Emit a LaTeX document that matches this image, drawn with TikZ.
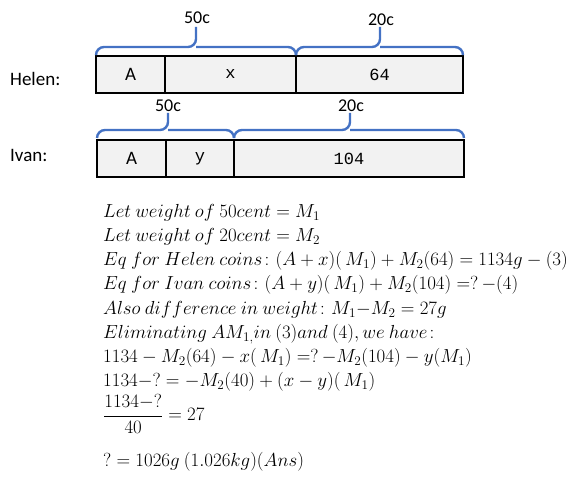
\RequirePackage{fix-cm}
\documentclass[tikz,border=0pt]{standalone}
\usepackage{amsmath}
\usepackage{fontspec}
\setmainfont{Carlito}
\newfontfamily\monof{Liberation Mono}
\begin{document}
\begin{tikzpicture}[x=1pt,y=-1pt,
  cell/.style={draw=black,line width=2pt,fill=black!5,inner sep=0pt,minimum height=37pt,font=\fontsize{19}{22}\selectfont},
  mono/.style={font=\monof\fontsize{17}{20}\selectfont},
  bracestyle/.style={draw={rgb,255:red,68;green,114;blue,196},line width=2.4pt,rounded corners=8pt},
  lbl/.style={font=\fontsize{18}{21}\selectfont,inner sep=0pt},
  wholbl/.style={font=\fontsize{19}{22}\selectfont,inner sep=0pt,anchor=west},
  eq/.style={anchor=west,inner sep=0pt,font=\fontsize{18.9}{22}\selectfont}]
\useasboundingbox (0,0) rectangle (584,484);
% Helen
\node[wholbl] (helen) at (10,79) {Helen:};
\node[cell,minimum width=69pt] (hA) at (130.5,74.5) {A};
\node[cell,mono,minimum width=131pt] (hx) at (230.5,74.5) {x};
\node[cell,mono,minimum width=167pt] (h64) at (379.5,74.5) {64};
% Ivan
\node[wholbl] (ivan) at (10,155) {Ivan:};
\node[cell,minimum width=69pt] (iA) at (131.5,158.5) {A};
\node[cell,mono,minimum width=68pt] (iy) at (200,158.5) {y};
\node[cell,mono,minimum width=230pt] (i104) at (349,158.5) {104};
% braces Helen
\draw[bracestyle] (96,54) -- (96,47) -- (196,47) -- (196,27);
\draw[bracestyle] (296,54) -- (296,47) -- (196,47);
\draw[bracestyle] (296,54) -- (296,47) -- (380,47) -- (380,27);
\draw[bracestyle] (463,54) -- (463,47) -- (380,47);
\node[lbl] (h50) at (197,18) {50c};
\node[lbl] (h20) at (381,20) {20c};
% braces Ivan
\draw[bracestyle] (97,138) -- (97,130) -- (168,130) -- (168,113);
\draw[bracestyle] (234,138) -- (234,130) -- (168,130);
\draw[bracestyle] (234,138) -- (234,130) -- (350,130) -- (350,113);
\draw[bracestyle] (464,138) -- (464,130) -- (350,130);
\node[lbl] (i50) at (168,106) {50c};
\node[lbl] (i20) at (351,106) {20c};
% equations
\node[eq] (e1) at (103,213) {$Let\ weight\ of\ 50cent=M_1$};
\node[eq] (e2) at (103,237) {$Let\ weight\ of\ 20cent=M_2$};
\node[eq] (e3) at (103,261) {$Eq\ for\ Helen\ coins\colon (A+x)(\,M_1)+M_2(64)=1134g-(3)$};
\node[eq] (e4) at (103,285) {$Eq\ for\ Ivan\ coins\colon (A+y)(\,M_1)+M_2(104)=?\,{-}(4)$};
\node[eq] (e5) at (103,310) {$Also\ difference\ in\ weight\colon M_1{-}M_2=27g$};
\node[eq] (e6) at (103,334) {$Eliminating\ AM_{1,}in\ (3)and\ (4), we\ have\colon$};
\node[eq] (e7) at (103,358) {$1134-M_2(64)-x(\,M_1)\mathrel{=}?\,{-}M_2(104)-y(M_1)$};
\node[eq] (e8) at (103,382) {$1134{-}?={-}M_2(40)+(x-y)(\,M_1)$};
\node[eq] (e9) at (103,416) {$\dfrac{\vphantom{(}1134{-}?}{\vphantom{(}40}=27$};
\node[eq] (e10) at (103,462) {$?=1026g\ (1.026kg)(Ans)$};
\end{tikzpicture}
\end{document}
